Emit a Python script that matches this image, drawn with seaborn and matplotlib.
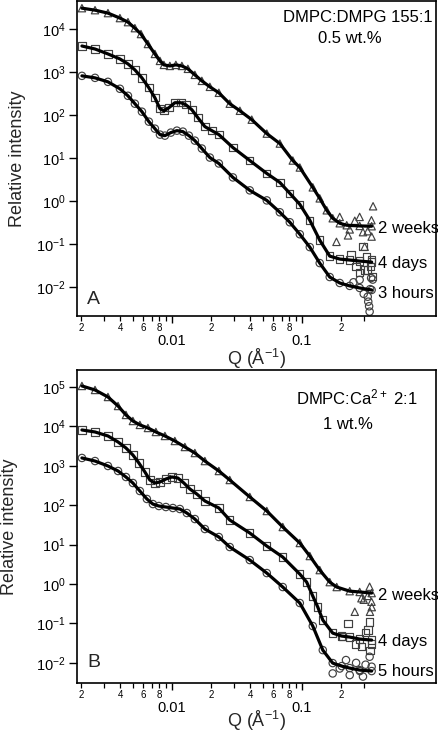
import numpy as np
import matplotlib
matplotlib.use("Agg")
import matplotlib.pyplot as plt
import matplotlib.ticker as mticker
import seaborn as sns

# ---------------- data ----------------
# Panel A : DMPC:DMPG 155:1, 0.5 wt.%
a_2w_q = [0.00203, 0.00256, 0.00322, 0.00398, 0.00459, 0.00519, 0.00578, 0.00654, 0.00740, 0.00809,
          0.00868, 0.00965, 0.01073, 0.01194, 0.01328, 0.01503, 0.01701, 0.01961, 0.02300, 0.0279,
          0.0334, 0.0412, 0.0538, 0.0678, 0.0853, 0.0966, 0.1216, 0.1375, 0.1557, 0.1731,
          0.1961, 0.2219, 0.2792, 0.3452]
a_2w_i = [30600, 27500, 23500, 18000, 14500, 10500, 7660, 4500, 2640, 1820,
          1470, 1390, 1470, 1390, 1190, 861, 625, 454, 330, 184,
          126, 78.3, 37.1, 21.8, 8.79, 6.05, 2.09, 1.16, 0.612, 0.400,
          0.306, 0.275, 0.265, 0.261]
a_2w_noise_q = [0.185, 0.196, 0.227, 0.234, 0.256, 0.279, 0.296, 0.305, 0.322, 0.344, 0.345, 0.354]
a_2w_noise_i = [0.113, 0.43, 0.16, 0.22, 0.35, 0.43, 0.19, 0.087, 0.20, 0.36, 0.15, 0.76]

a_4d_q = [0.00203, 0.00256, 0.00322, 0.00398, 0.00459, 0.00519, 0.00588, 0.00665, 0.00740, 0.00809,
          0.00868, 0.00948, 0.01054, 0.01173, 0.01281, 0.01425, 0.01585, 0.01795, 0.02031, 0.02300,
          0.0295, 0.0398, 0.0538, 0.0678, 0.0809, 0.0966, 0.1153, 0.1375, 0.1642, 0.1961,
          0.2339, 0.2792, 0.3452]
a_4d_i = [4040, 3440, 2640, 2020, 1550, 1125, 734, 431, 253, 141,
          126, 148, 194, 194, 174, 133, 87, 54, 43.5, 35.2,
          17.6, 8.79, 4.40, 2.72, 1.52, 0.843, 0.360, 0.124, 0.0527, 0.045,
          0.0427, 0.0404, 0.0383]
a_4d_noise_q = [0.24, 0.262, 0.279, 0.296, 0.305, 0.314, 0.322, 0.338, 0.344, 0.350]
a_4d_noise_i = [0.056, 0.03, 0.022, 0.087, 0.025, 0.05, 0.025, 0.03, 0.044, 0.018]

a_3h_q = [0.00203, 0.00256, 0.00322, 0.00398, 0.00459, 0.00519, 0.00588, 0.00665, 0.00740, 0.00809,
          0.00884, 0.00982, 0.01093, 0.01215, 0.01352, 0.01503, 0.01701, 0.01961, 0.02300, 0.0295,
          0.0398, 0.0538, 0.0678, 0.0809, 0.0966, 0.1153, 0.1375, 0.1642, 0.1961, 0.2339,
          0.2792, 0.3452]
a_3h_i = [817, 734, 593, 409, 281, 184, 120, 70.4, 48.4, 35.2,
          33.3, 39.2, 43.5, 41.3, 33.3, 25.5, 16.7, 10.3, 7.50, 3.56,
          1.78, 1.04, 0.551, 0.323, 0.170, 0.0853, 0.0363, 0.0172, 0.0125, 0.0107,
          0.00958, 0.00861]
a_3h_noise_q = [0.25, 0.279, 0.30, 0.322, 0.325, 0.330, 0.333, 0.336, 0.342, 0.352]
a_3h_noise_i = [0.013, 0.0148, 0.0070, 0.006, 0.0046, 0.0036, 0.0027, 0.009, 0.0163, 0.015]

# Panel B : DMPC:Ca2+ 2:1, 1 wt.%
b_2w_q = [0.00203, 0.00256, 0.00322, 0.00385, 0.00443, 0.00501, 0.00567, 0.00654, 0.00753, 0.00884,
          0.01054, 0.01259, 0.01503, 0.01795, 0.02300, 0.0279, 0.0398, 0.0538, 0.0714, 0.0966,
          0.1153, 0.1375, 0.1642, 0.1858, 0.2339, 0.2792, 0.3452]
b_2w_i = [106000, 83900, 55700, 32900, 19500, 13700, 10900, 9110, 7210, 5710,
          4260, 3000, 2110, 1320, 738, 436, 162, 71.3, 28.0, 11.0,
          5.14, 2.26, 1.12, 0.84, 0.66, 0.63, 0.59]
b_2w_noise_q = [0.256, 0.288, 0.300, 0.322, 0.333, 0.335, 0.344, 0.346]
b_2w_noise_i = [0.198, 0.436, 0.40, 0.50, 0.855, 0.198, 0.356, 0.26]

b_4d_q = [0.00203, 0.00256, 0.00322, 0.00385, 0.00443, 0.00501, 0.00557, 0.00620, 0.00677, 0.00740,
          0.00809, 0.00899, 0.0100, 0.01112, 0.01237, 0.01376, 0.01557, 0.01795, 0.0230, 0.0279,
          0.0398, 0.0538, 0.0714, 0.0966, 0.1091, 0.1216, 0.1328, 0.1452, 0.1731, 0.2031,
          0.2339, 0.2792, 0.3452]
b_4d_i = [8110, 7210, 5710, 4020, 2830, 1880, 1180, 696, 436, 366,
          388, 462, 520, 490, 366, 258, 192, 128, 84.9, 42.1,
          19.7, 9.20, 4.84, 1.79, 1.12, 0.495, 0.261, 0.122, 0.0570, 0.0479,
          0.0452, 0.0402, 0.0379]
b_4d_noise_q = [0.207, 0.227, 0.26, 0.290, 0.31, 0.324, 0.333, 0.335, 0.345]
b_4d_noise_i = [0.046, 0.10, 0.03, 0.026, 0.06, 0.068, 0.110, 0.021, 0.03]

b_5h_q = [0.00203, 0.00256, 0.00322, 0.00385, 0.00443, 0.00501, 0.00567, 0.00642, 0.00714, 0.00794,
          0.00899, 0.01018, 0.01152, 0.01304, 0.01503, 0.01795, 0.0230, 0.0279, 0.0398, 0.0538,
          0.0714, 0.0966, 0.1216, 0.1452, 0.1731, 0.2031, 0.2339, 0.2792, 0.3452]
b_5h_i = [1580, 1320, 989, 738, 520, 366, 229, 144, 107, 95.4,
          90.0, 84.9, 80.1, 63.4, 44.6, 24.9, 15.6, 8.69, 4.06, 1.90,
          0.84, 0.330, 0.0859, 0.0211, 0.00988, 0.00829, 0.00738, 0.00657, 0.00620]
b_5h_noise_q = [0.173, 0.196, 0.219, 0.234, 0.262, 0.28, 0.296, 0.31, 0.333, 0.345]
b_5h_noise_i = [0.0054, 0.0072, 0.0118, 0.0049, 0.01, 0.0062, 0.0045, 0.009, 0.0143, 0.008]

# tick positions / labels
x_major = [0.01, 0.1]
x_major_labels = ["0.01", "0.1"]
x_minor = [0.002, 0.003, 0.004, 0.005, 0.006, 0.007, 0.008, 0.009,
           0.02, 0.03, 0.04, 0.05, 0.06, 0.07, 0.08, 0.09, 0.2, 0.3]
x_minor_labels = ["2", "", "4", "", "6", "", "8", "",
                  "2", "", "4", "", "6", "", "8", "", "2", ""]
ya_exp = [-2, -1, 0, 1, 2, 3, 4]
yb_exp = [-2, -1, 0, 1, 2, 3, 4, 5]

# ---------------- style ----------------
sns.set_style("ticks")
plt.rcParams['font.family'] = ['Liberation Sans', 'DejaVu Sans']
plt.rcParams['mathtext.fontset'] = 'custom'
plt.rcParams['mathtext.rm'] = 'Liberation Sans'
plt.rcParams['mathtext.it'] = 'Liberation Sans:italic'
plt.rcParams['mathtext.bf'] = 'Liberation Sans:bold'
plt.rcParams['mathtext.default'] = 'regular'
plt.rcParams['axes.unicode_minus'] = False

fig = plt.figure(figsize=(4.38, 7.34), dpi=100)
axA = fig.add_axes([0.1758, 0.5695, 0.8196, 0.4290])
axB = fig.add_axes([0.1758, 0.0695, 0.8196, 0.4264])

mk_kw = dict(s=28, facecolor='none', edgecolor='0.25', linewidth=0.85, legend=False, zorder=2)
ln_kw = dict(color='black', linewidth=2.3, sort=False, estimator=None, legend=False, zorder=3)


def draw_series(ax, q, i, nq, ni, marker):
    sns.scatterplot(x=q, y=i, marker=marker, ax=ax, **mk_kw)
    sns.scatterplot(x=nq, y=ni, marker=marker, ax=ax, **mk_kw)
    sns.lineplot(x=q, y=i, ax=ax, **ln_kw)


def style_axes(ax, yexp, ylim):
    ax.set_xscale('log')
    ax.set_yscale('log')
    ax.set_xlim(0.00186, 1.08)
    ax.set_ylim(*ylim)
    ax.xaxis.set_major_locator(mticker.FixedLocator(x_major))
    ax.xaxis.set_major_formatter(mticker.FixedFormatter(x_major_labels))
    ax.xaxis.set_minor_locator(mticker.FixedLocator(x_minor))
    ax.xaxis.set_minor_formatter(mticker.FixedFormatter(x_minor_labels))
    yt = [10.0 ** e for e in yexp]
    ax.yaxis.set_major_locator(mticker.FixedLocator(yt))
    ax.yaxis.set_major_formatter(mticker.FixedFormatter([r"$10^{%d}$" % e for e in yexp]))
    ax.yaxis.set_minor_locator(mticker.NullLocator())
    ax.tick_params(axis='x', which='major', direction='out', length=5, width=1.0,
                   pad=8, labelsize=10.5, colors='black')
    ax.tick_params(axis='x', which='minor', direction='out', length=3.5, width=0.9,
                   pad=1.5, labelsize=7, colors='black')
    ax.tick_params(axis='y', which='major', direction='out', length=6, width=1.0,
                   pad=2, labelsize=10.5, colors='black')
    for s in ax.spines.values():
        s.set_visible(True)
        s.set_linewidth(1.2)
        s.set_color('black')
    ax.set_xlabel("Q (Å$^{-1}$)", fontsize=13)
    ax.set_ylabel("Relative intensity", fontsize=13)


for ax in (axA, axB):
    ax.set_xscale('log')
    ax.set_yscale('log')

draw_series(axA, a_2w_q, a_2w_i, a_2w_noise_q, a_2w_noise_i, '^')
draw_series(axA, a_4d_q, a_4d_i, a_4d_noise_q, a_4d_noise_i, 's')
draw_series(axA, a_3h_q, a_3h_i, a_3h_noise_q, a_3h_noise_i, 'o')

draw_series(axB, b_2w_q, b_2w_i, b_2w_noise_q, b_2w_noise_i, '^')
draw_series(axB, b_4d_q, b_4d_i, b_4d_noise_q, b_4d_noise_i, 's')
draw_series(axB, b_5h_q, b_5h_i, b_5h_noise_q, b_5h_noise_i, 'o')

style_axes(axA, ya_exp, (10 ** -2.67, 10 ** 4.65))
style_axes(axB, yb_exp, (10 ** -2.51, 10 ** 5.43))

axA.yaxis.set_label_coords(-0.142, 0.5)
axB.yaxis.set_label_coords(-0.163, 0.5)
axA.xaxis.set_label_coords(0.5, -0.098)
axB.xaxis.set_label_coords(0.5, -0.082)

# annotations
tf = dict(fontsize=12, color='black')
axA.text(0.783, 0.949, "DMPC:DMPG 155:1", transform=axA.transAxes, ha='center', va='center', **tf)
axA.text(0.761, 0.880, "0.5 wt.%", transform=axA.transAxes, ha='center', va='center', **tf)
axA.text(0.839, 0.278, "2 weeks", transform=axA.transAxes, ha='left', va='center', **tf)
axA.text(0.839, 0.168, "4 days", transform=axA.transAxes, ha='left', va='center', **tf)
axA.text(0.839, 0.070, "3 hours", transform=axA.transAxes, ha='left', va='center', **tf)
axA.text(0.028, 0.051, "A", transform=axA.transAxes, ha='left', va='center', fontsize=14)

axB.text(0.778, 0.911, "DMPC:Ca$^{2+}$ 2:1", transform=axB.transAxes, ha='center', va='center', **tf)
axB.text(0.756, 0.827, "1 wt.%", transform=axB.transAxes, ha='center', va='center', **tf)
axB.text(0.839, 0.278, "2 weeks", transform=axB.transAxes, ha='left', va='center', **tf)
axB.text(0.839, 0.134, "4 days", transform=axB.transAxes, ha='left', va='center', **tf)
axB.text(0.839, 0.038, "5 hours", transform=axB.transAxes, ha='left', va='center', **tf)
axB.text(0.028, 0.064, "B", transform=axB.transAxes, ha='left', va='center', fontsize=14)

fig.savefig("out.png", dpi=100)
